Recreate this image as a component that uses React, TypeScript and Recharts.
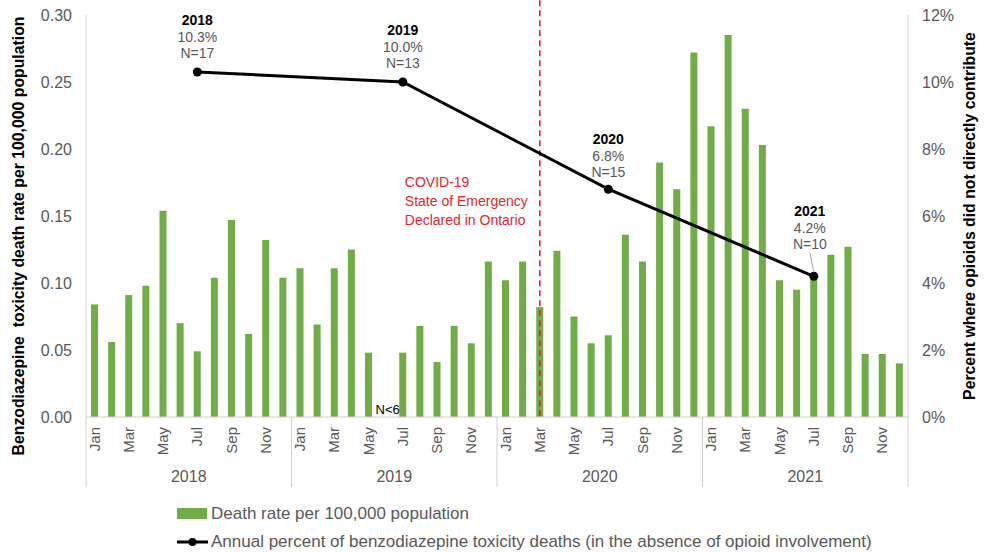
import { ComposedChart, Bar, Line, XAxis, YAxis, ReferenceLine, LabelList } from 'recharts';

const years = [2018, 2019, 2020, 2021];
const monthNames = ['Jan', 'Feb', 'Mar', 'Apr', 'May', 'Jun', 'Jul', 'Aug', 'Sep', 'Oct', 'Nov', 'Dec'];

// death rate per 100,000, null = suppressed (N<6)
const rate2018 = [0.084, 0.056, 0.091, 0.098, 0.154, 0.070, 0.049, 0.104, 0.147, 0.062, 0.132, 0.104];
const rate2019 = [0.111, 0.069, 0.111, 0.125, 0.048, null, 0.048, 0.068, 0.041, 0.068, 0.055, 0.116];
const rate2020 = [0.102, 0.116, 0.082, 0.124, 0.075, 0.055, 0.061, 0.136, 0.116, 0.190, 0.170, 0.272];
const rate2021 = [0.217, 0.285, 0.230, 0.203, 0.102, 0.095, 0.104, 0.121, 0.127, 0.047, 0.047, 0.040];
const rates = [rate2018, rate2019, rate2020, rate2021];

const annualPercent = [10.3, 10.0, 6.8, 4.2];
const annualDeaths = [17, 13, 15, 10];
const annualMonth = 6; // plotted at Jul

const leftTicks = [0, 0.05, 0.1, 0.15, 0.2, 0.25, 0.3];
const rightTicks = [0, 2, 4, 6, 8, 10, 12];

const covidMonth = '2020-3';
const covidText = ['COVID-19', 'State of Emergency', 'Declared in Ontario'];

const data = years.flatMap((yr, yi) =>
  monthNames.map((m, mi) => ({
    key: `${yr}-${mi + 1}`,
    month: m,
    monthIndex: mi,
    year: yr,
    yearIndex: yi,
    rate: rates[yi][mi],
    pct: mi === annualMonth ? annualPercent[yi] : null,
  }))
);

const W = 987;
const H = 552;
const PLOT_LEFT = 86;
const PLOT_RIGHT = 908;
const BAND = (PLOT_RIGHT - PLOT_LEFT) / data.length;
const GREEN = '#70ad47';
const AXIS = '#d0d0d0';
const TICK = '#595959';
const FONT = '"Liberation Sans", Arial, sans-serif';

function MonthTick(props: any) {
  const { x, y, payload } = props;
  const d = data.find((r) => r.key === payload.value);
  if (!d) return null;
  const base = y - 10;
  return (
    <g>
      {d.monthIndex % 2 === 0 && (
        <text
          x={0}
          y={0}
          transform={`translate(${x + 5},${y}) rotate(-90)`}
          textAnchor="end"
          fill={TICK}
          fontSize={15}
          fontFamily={FONT}
        >
          {d.month}
        </text>
      )}
      {d.rate === null && (
        <text x={x + 2} y={base - 3} textAnchor="middle" fill="#000" fontSize={13} fontFamily={FONT}>
          N&lt;6
        </text>
      )}
      {d.monthIndex === 0 && <line x1={x - BAND / 2} x2={x - BAND / 2} y1={base} y2={base + 70} stroke={AXIS} />}
      {d.monthIndex === 11 && d.yearIndex === years.length - 1 && (
        <line x1={x + BAND / 2} x2={x + BAND / 2} y1={base} y2={base + 70} stroke={AXIS} />
      )}
      {d.monthIndex === annualMonth && (
        <text x={x - BAND / 2} y={base + 65} textAnchor="middle" fill={TICK} fontSize={16} fontFamily={FONT}>
          {d.year}
        </text>
      )}
    </g>
  );
}

function PointLabel(props: any) {
  const { x, y, index } = props;
  const d = data[index];
  if (!d || d.pct === null) return null;
  const last = d.yearIndex === years.length - 1;
  const dy = last ? -13 : d.yearIndex === 2 ? 2 : 0;
  const cx = last ? x - 4 : x;
  return (
    <g fontFamily={FONT} fontSize={14}>
      {last && <line x1={x - 4} y1={y - 24} x2={x} y2={y - 4} stroke="#a6a6a6" />}
      <text x={cx} y={y - 52 + dy} textAnchor="middle" dominantBaseline="central" fontWeight="bold" fill="#000">
        {d.year}
      </text>
      <text x={cx} y={y - 35 + dy} textAnchor="middle" dominantBaseline="central" fill={TICK}>
        {annualPercent[d.yearIndex].toFixed(1)}%
      </text>
      <text x={cx} y={y - 19 + dy} textAnchor="middle" dominantBaseline="central" fill={TICK}>
        N={annualDeaths[d.yearIndex]}
      </text>
    </g>
  );
}

function CovidLabel(props: any) {
  const { viewBox } = props;
  const x = viewBox.x - 135;
  return (
    <g>
      {covidText.map((t, i) => (
        <text key={t} x={x} y={182 + i * 19} dominantBaseline="central" fill="#e3262b" fontSize={14} fontFamily={FONT}>
          {t}
        </text>
      ))}
    </g>
  );
}

export default function App() {
  return (
    <div style={{ position: 'absolute', left: 0, top: 0, width: W, height: H, background: '#fff', fontFamily: FONT }}>
      <ComposedChart width={W} height={H} data={data} margin={{ top: 15, right: 19, left: 18, bottom: 0 }}>
        <XAxis
          dataKey="key"
          interval={0}
          height={135}
          tickSize={0}
          tickMargin={10}
          axisLine={{ stroke: AXIS }}
          tickLine={false}
          tick={<MonthTick />}
        />
        <YAxis
          yAxisId="left"
          width={68}
          domain={[0, 0.3]}
          ticks={leftTicks}
          tickFormatter={(v: number) => v.toFixed(2)}
          axisLine={{ stroke: AXIS }}
          tickLine={false}
          tickSize={6}
          tickMargin={8}
          tick={{ fill: TICK, fontSize: 16, fontFamily: FONT }}
        />
        <YAxis
          yAxisId="right"
          orientation="right"
          width={60}
          domain={[0, 12]}
          ticks={rightTicks}
          tickFormatter={(v: number) => `${v}%`}
          axisLine={{ stroke: AXIS }}
          tickLine={false}
          tickSize={6}
          tickMargin={8}
          tick={{ fill: TICK, fontSize: 16, fontFamily: FONT, textAnchor: 'start' }}
        />
        <Bar yAxisId="left" dataKey="rate" fill={GREEN} barSize={7} isAnimationActive={false} />
        <ReferenceLine
          yAxisId="left"
          segment={[
            { x: covidMonth, y: 0.311 },
            { x: covidMonth, y: 0 },
          ]}
          ifOverflow="visible"
          stroke="#e8202a"
          strokeWidth={1.6}
          strokeDasharray="6 4"
          label={<CovidLabel />}
        />
        <Line
          yAxisId="right"
          dataKey="pct"
          stroke="#000"
          strokeWidth={3}
          connectNulls
          dot={{ r: 4.5, fill: '#000', stroke: '#000', strokeWidth: 0 }}
          isAnimationActive={false}
        >
          <LabelList dataKey="pct" content={<PointLabel />} />
        </Line>
      </ComposedChart>

      <div
        style={{
          position: 'absolute',
          left: 19,
          top: 236,
          transform: 'translate(-50%,-50%) rotate(-90deg)',
          whiteSpace: 'nowrap',
          fontWeight: 'bold',
          fontSize: 15.8,
          color: '#000',
        }}
      >
        Benzodiazepine&nbsp; toxicity death rate per 100,000 population
      </div>
      <div
        style={{
          position: 'absolute',
          left: 970,
          top: 216,
          transform: 'translate(-50%,-50%) rotate(-90deg)',
          whiteSpace: 'nowrap',
          fontWeight: 'bold',
          fontSize: 15.8,
          color: '#000',
        }}
      >
        Percent where opioids did not directly contribute
      </div>

      <div style={{ position: 'absolute', left: 177, top: 500, fontSize: 17, color: TICK, lineHeight: '28px' }}>
        <div style={{ display: 'flex', alignItems: 'center' }}>
          <svg width={31} height={12} style={{ marginRight: 3 }}>
            <rect x={0} y={0} width={30} height={11} fill={GREEN} />
          </svg>
          Death rate per 100,000 population
        </div>
        <div style={{ display: 'flex', alignItems: 'center' }}>
          <svg width={31} height={12} style={{ marginRight: 3 }}>
            <line x1={0} x2={31} y1={6} y2={6} stroke="#000" strokeWidth={3} />
            <circle cx={15.5} cy={6} r={4} fill="#000" />
          </svg>
          Annual percent of benzodiazepine toxicity deaths (in the absence of opioid involvement)
        </div>
      </div>
    </div>
  );
}
